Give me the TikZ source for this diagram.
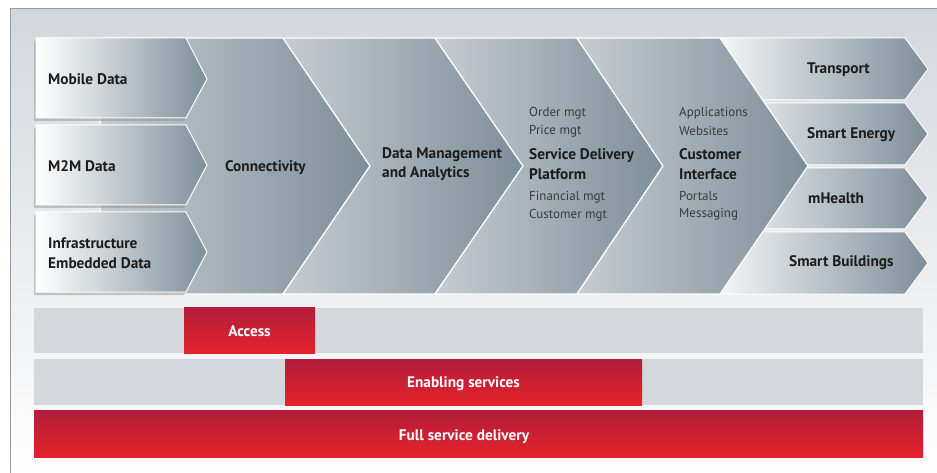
\documentclass[tikz,border=0pt]{standalone}
\usepackage{fontspec}
\setmainfont{PT Sans}
\usetikzlibrary{shadows}

\definecolor{bgtop}{HTML}{D3D7DC}
\definecolor{framecol}{HTML}{8E9DAA}
\definecolor{chevlight}{HTML}{C6CCD1}
\definecolor{chevdark}{HTML}{7D8E9A}
\definecolor{redtop}{HTML}{B21D3B}
\definecolor{redbot}{HTML}{E5222A}
\definecolor{barfill}{HTML}{D4D7DC}
\definecolor{txt}{HTML}{1C1C1C}
\definecolor{subtxt}{HTML}{3A3A3A}

\tikzset{
  chevron/.style={left color=chevlight,right color=chevdark,draw=white,line width=1.2pt},
  tab/.style={left color=white,right color=chevdark,draw=white,line width=1pt},
  redbar/.style={top color=redtop,bottom color=redbot},
  greybar/.style={fill=barfill},
  lbl/.style={anchor=west,inner sep=0pt,text=txt,font=\fontsize{15.3}{19.5}\selectfont\bfseries,align=left},
  sublbl/.style={anchor=west,inner sep=0pt,text=subtxt,font=\fontsize{13}{18}\selectfont},
  bartext/.style={text=white,font=\fontsize{15.3}{19}\selectfont\bfseries}
}

\begin{document}
\begin{tikzpicture}[x=1pt,y=-1pt]
    \useasboundingbox (0,0) rectangle (937,473);
    %sfondo
    \fill[white] (0,0) rectangle (937,473);
    \shade[top color=bgtop,bottom color=white] (10,9) rectangle (937,473);
    \draw[framecol,line width=1pt] (10,473) -- (10,9) -- (937,9);
    %frecce a destra
    \foreach \t/\m/\b in {38/69/100, 103/134/165, 168/198/229, 232/263/294}
        \shade[tab] (700,\t) -- (905,\t) -- (928,\m) -- (905,\b) -- (700,\b) -- cycle;
    %catena del valore
    \shade[chevron] (100,38) -- (283,38) -- (370,166) -- (283,294) -- (100,294) -- cycle;
    \shade[chevron] (283,38) -- (435,38) -- (523,166) -- (435,294) -- (283,294) -- (370,166) -- cycle;
    \shade[chevron] (435,38) -- (577,38) -- (663,166) -- (577,294) -- (435,294) -- (523,166) -- cycle;
    \shade[chevron] (577,38) -- (720,38) -- (808,166) -- (720,294) -- (577,294) -- (663,166) -- cycle;
    %frecce a sinistra
    \foreach \t/\m/\b in {38/79/118, 125/165/205, 212/252/292}
        \shade[tab,drop shadow={opacity=0.4,shadow xshift=-2pt,shadow yshift=-3pt}]
            (36,\t) -- (186,\t) -- (207,\m) -- (186,\b) -- (36,\b) -- cycle;
    %barre
    \fill[greybar] (34,308) rectangle (923,353);
    \fill[greybar] (34,359) rectangle (923,405);
    \shade[redbar] (184,307) rectangle (315,353);
    \shade[redbar] (285,359) rectangle (642,405);
    \shade[redbar] (34,410) rectangle (923,457);
    %testi
    \node[lbl] (mobile) at (48,79) {Mobile Data};
    \node[lbl] (m2m) at (48,166) {M2M Data};
    \node[lbl] (infra) at (48,253) {Infrastructure\\Embedded Data};
    \node[lbl] (conn) at (225,168) {Connectivity};
    \node[lbl] (dma) at (382,164) {Data Management\\and Analytics};
    \node[sublbl] (order) at (529,113) {Order mgt};
    \node[sublbl] (price) at (529,131) {Price mgt};
    \node[lbl] (sdp) at (529,164) {Service Delivery\\Platform};
    \node[sublbl] (fin) at (529,197) {Financial mgt};
    \node[sublbl] (cust) at (529,215) {Customer mgt};
    \node[sublbl] (apps) at (679,113) {Applications};
    \node[sublbl] (web) at (679,131) {Websites};
    \node[lbl] (ci) at (679,164) {Customer\\Interface};
    \node[sublbl] (portals) at (679,196) {Portals};
    \node[sublbl] (msg) at (679,214) {Messaging};
    \node[lbl] (transport) at (807,70) {Transport};
    \node[lbl] (energy) at (807,135) {Smart Energy};
    \node[lbl] (mhealth) at (808,198) {mHealth};
    \node[lbl] (buildings) at (789,263) {Smart Buildings};
    \node[bartext] (access) at (249.5,331) {Access};
    \node[bartext] (enabling) at (463.5,384) {Enabling services};
    \node[bartext] (full) at (464,437) {Full service delivery};
\end{tikzpicture}
\end{document}
